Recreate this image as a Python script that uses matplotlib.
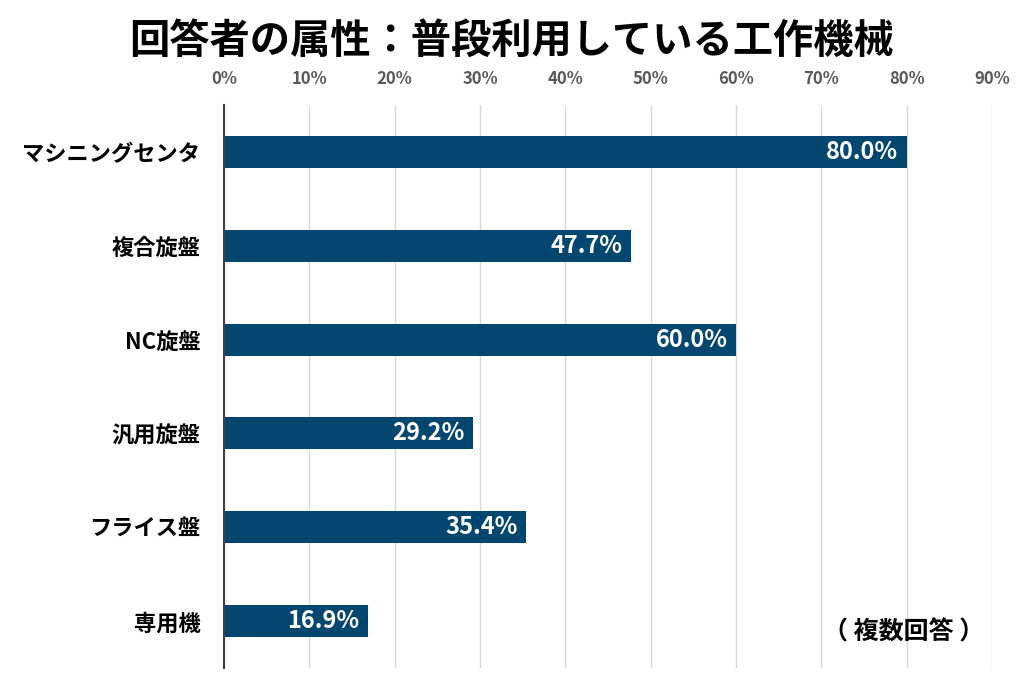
import numpy as np
import matplotlib.pyplot as plt
from matplotlib.ticker import FuncFormatter

plt.rcParams['font.family'] = ['Noto Sans CJK JP', 'DejaVu Sans']

categories = ['マシニングセンタ', '複合旋盤', 'NC旋盤', '汎用旋盤', 'フライス盤', '専用機']
values = [80.0, 47.7, 60.0, 29.2, 35.4, 16.9]
xticks = list(range(0, 91, 10))

fig = plt.figure(figsize=(10.24, 6.82), dpi=100)
ax = fig.add_axes([0.21875, 0.0205, 0.75, 0.8255])

y = np.arange(len(categories))
bars = ax.barh(y, values, height=0.34, color='#03466f', zorder=3)

for b, v in zip(bars, values):
    ax.text(b.get_width() - 1.0, b.get_y() + b.get_height() / 2, f'{v:.1f}%',
            ha='right', va='center', color='white', fontsize=17, fontweight='bold', zorder=4)

ax.set_ylim(len(categories) - 0.5, -0.5)
ax.set_xlim(0, 90)
ax.set_yticks(y)
ax.set_yticklabels(categories, fontsize=16, fontweight='bold')
ax.set_xticks(xticks)
ax.xaxis.set_major_formatter(FuncFormatter(lambda v, p: f'{v:.0f}%'))
ax.xaxis.tick_top()
ax.tick_params(axis='x', length=0, pad=12, labelsize=12, labelcolor='#595959')
ax.tick_params(axis='y', length=0, pad=17)
for lab in ax.get_xticklabels():
    lab.set_fontweight('bold')

ax.grid(axis='x', color='#d9d9d9', linewidth=1, zorder=0)
for s in ['top', 'right', 'bottom']:
    ax.spines[s].set_visible(False)
ax.spines['left'].set_color('#404040')
ax.spines['left'].set_linewidth(1.5)
ax.spines['left'].set_zorder(5)

ax.text(79.6, 5.12, '（ 複数回答 ）', ha='center', va='center', fontsize=18, fontweight='bold')

fig.text(0.5, 0.94, '回答者の属性：普段利用している工作機械', ha='center', va='center',
         fontsize=29, fontweight='bold')

fig.savefig('out.png', dpi=100)
